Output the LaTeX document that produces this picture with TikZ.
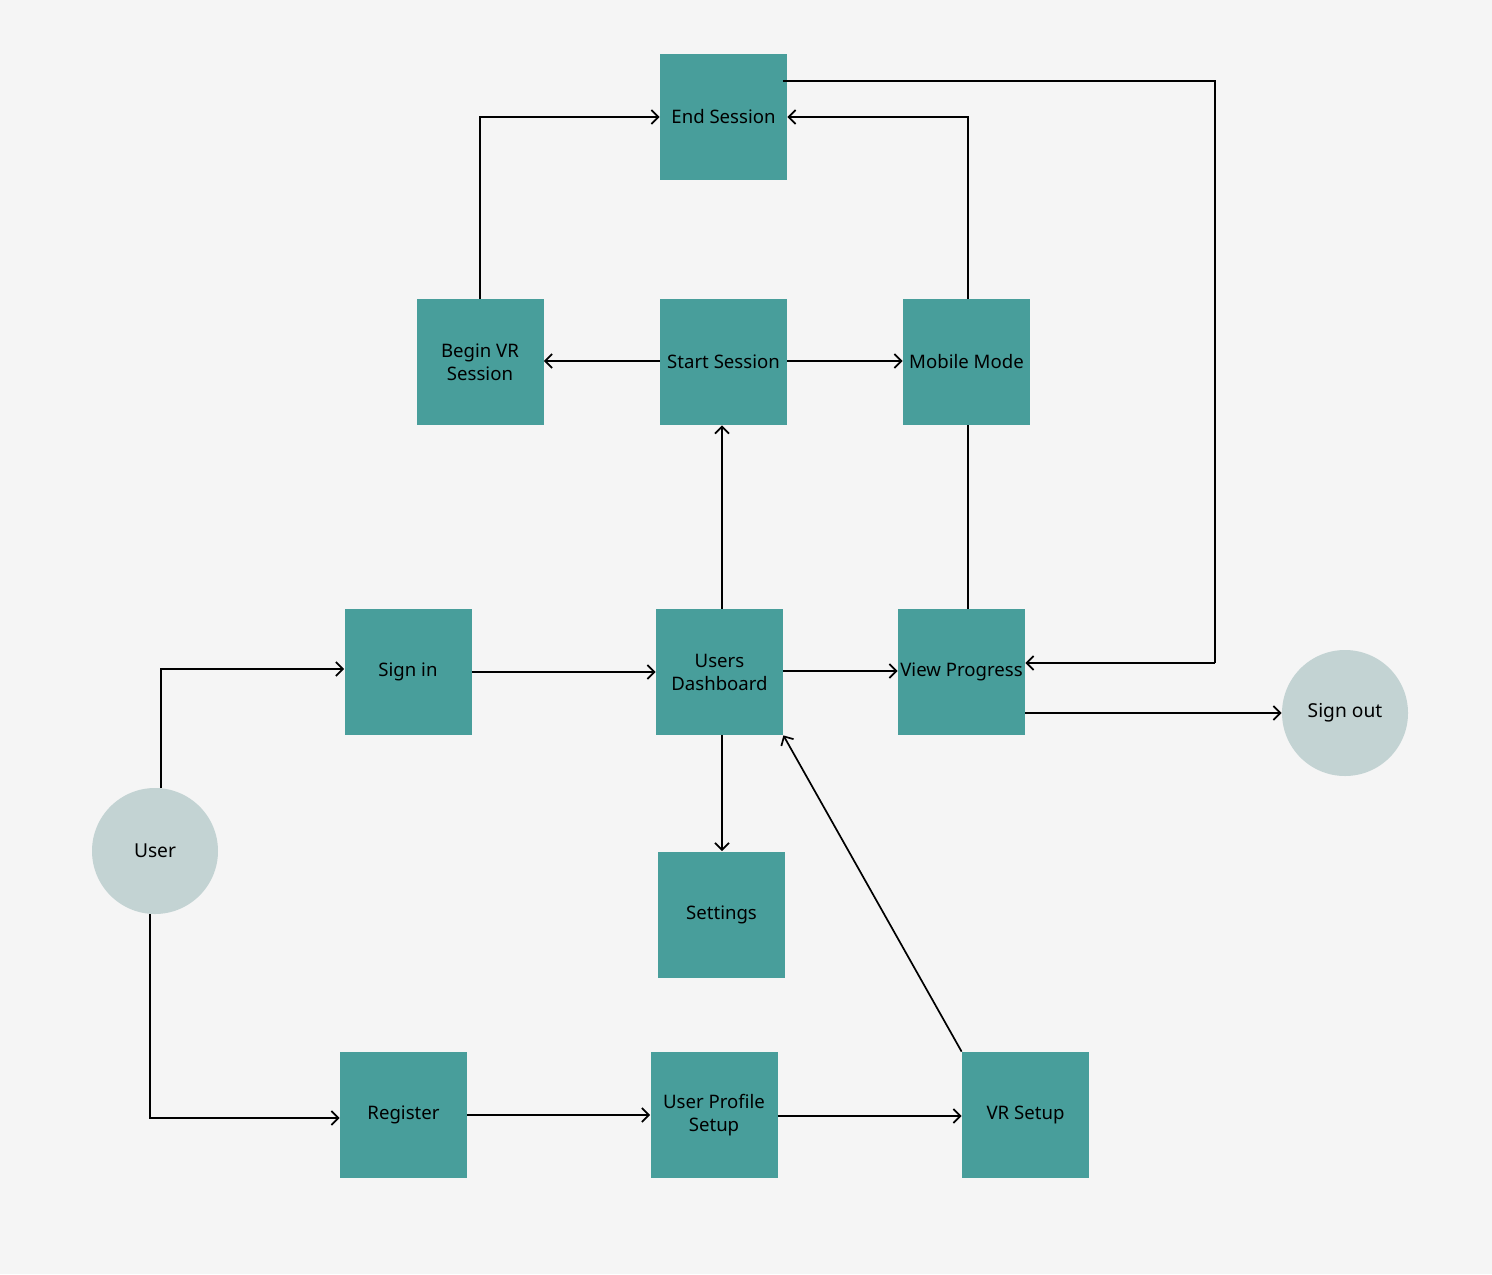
\documentclass[tikz,border=0pt]{standalone}
\usepackage{fontspec}
\setmainfont{Noto Sans}
\usetikzlibrary{arrows.meta,calc}
\definecolor{teal}{HTML}{489E9B}
\definecolor{circ}{HTML}{C3D3D3}
\definecolor{bg}{HTML}{F5F5F5}
\begin{document}
\begin{tikzpicture}[x=0.5pt,y=-0.5pt,
  box/.style={fill=teal,draw=none,minimum width=63.5pt,minimum height=63pt,inner sep=0pt,align=center,font=\fontsize{9.3}{11.5}\selectfont},
  ucirc/.style={circle,fill=circ,draw=none,minimum size=63pt,inner sep=0pt,font=\fontsize{9.6}{11}\selectfont},
  arr/.style={draw=black,line width=0.85pt,-{Straight Barb[length=3.5pt,width=7pt]}},
  ln/.style={draw=black,line width=0.85pt}]
\fill[bg] (0,0) rectangle (1492,1274);
\useasboundingbox (0,0) rectangle (1492,1274);
\node[box] (end) at (723.5,117) {End Session};
\node[box] (begin) at (480,362) {Begin VR\\Session};
\node[box] (start) at (723.5,362) {Start Session};
\node[box] (mobile) at (966.5,362) {Mobile Mode};
\node[box] (signin) at (408,672) {Sign in};
\node[box] (dash) at (719.5,672) {Users\\Dashboard};
\node[box] (view) at (961.5,672) {View Progress};
\node[box] (settings) at (721.5,914.5) {Settings};
\node[box] (register) at (403.5,1115) {Register};
\node[box] (ups) at (714,1115) {User Profile\\Setup};
\node[box] (vr) at (1025.5,1115) {VR Setup};
\node[ucirc] (user) at (155,851) {User};
\node[ucirc] (signout) at (1345,713) {Sign out};
\coordinate (c1) at (1215,81);
\coordinate (c2) at (1215,663);
% connectors
\draw[arr] ([xshift=3pt]user.north) |- ([yshift=1.5pt]signin.west);
\draw[arr] ([xshift=-2.5pt]user.south) |- ([yshift=-1.5pt]register.west);
\draw[arr] (signin.east) -- (dash.west);
\draw[arr] (register.east) -- (ups.west);
\draw[arr] ([yshift=-0.5pt]ups.east) -- ([yshift=-0.5pt]vr.west);
\draw[arr] (vr.north west) -- (dash.south east);
\draw[arr] ([xshift=1.25pt]dash.north) -- ([xshift=-0.75pt]start.south);
\draw[arr] ([xshift=1.25pt]dash.south) -- ([xshift=0.25pt]settings.north);
\draw[arr] ([yshift=0.5pt]dash.east) -- ([yshift=0.5pt]view.west);
\draw[arr] ([yshift=0.5pt]start.west) -- ([yshift=0.5pt]begin.west -| begin.east);
\draw[arr] ([yshift=0.5pt]start.east) -- ([yshift=0.5pt]mobile.west);
\draw[arr] (begin.north) |- (end.west);
\draw[arr] ([xshift=0.75pt]mobile.north) |- (end.east);
\draw[ln] ([xshift=0.75pt]mobile.south) -- ([xshift=3.25pt]view.north);
\draw[ln] ([xshift=-2pt,yshift=18pt]end.east) -- (c1) -- (c2);
\draw[arr] (c2) -- ([yshift=4.5pt]view.east);
\draw[arr] ([yshift=-20.5pt]view.east) -- (signout.west);
\end{tikzpicture}
\end{document}
